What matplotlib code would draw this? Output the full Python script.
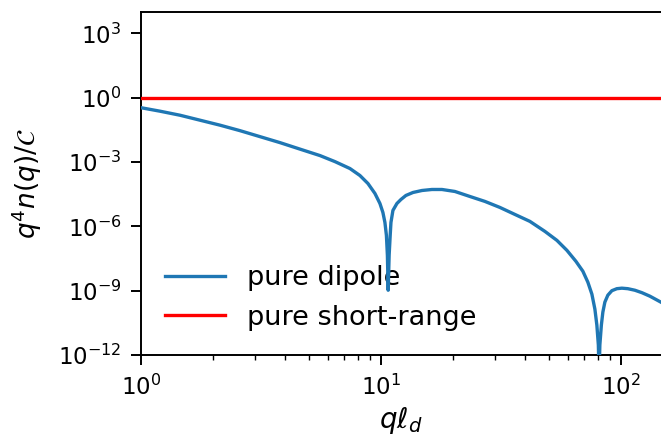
import matplotlib
matplotlib.use("Agg")
import matplotlib.pyplot as plt
from matplotlib.ticker import FixedLocator, NullLocator, LogLocator

# values (q*l_d, q^4 n(q)/C)
dipole_q = [1.000, 1.200, 1.454, 1.761, 2.134, 2.585, 3.132, 3.795, 4.597,
            5.570, 6.432, 7.428, 8.175, 8.828, 9.441, 9.904, 10.19, 10.39,
            10.54, 10.64, 10.72, 10.82, 10.93, 11.01, 11.22, 11.66, 12.12,
            12.71, 13.60, 14.83, 16.31, 17.96, 20.34, 23.49, 27.13, 31.32,
            36.17, 41.77, 48.23, 54.12, 59.57, 64.94, 69.46, 72.87, 75.73,
            77.94, 79.43, 80.58, 81.13, 81.75, 82.94, 84.14, 85.77, 88.27,
            91.73, 96.23, 100.96, 106.9, 114.4, 122.4, 132.1, 146.8]
dipole_n = [0.343, 0.236, 0.153, 0.0898, 0.0526, 0.0292, 0.01535, 8.07e-3,
            4.02e-3, 2.01e-3, 1.05e-3, 4.99e-4, 2.36e-4, 1.0e-4, 3.43e-5,
            1.17e-5, 4.48e-6, 1.53e-6, 3.81e-7, 4.48e-8, 1.05e-9, 4.48e-8,
            3.81e-7, 1.53e-6, 5.55e-6, 1.17e-5, 1.80e-5, 2.77e-5, 3.81e-5,
            4.72e-5, 5.26e-5, 5.26e-5, 4.25e-5, 2.48e-5, 1.46e-5, 7.65e-6,
            3.61e-6, 1.71e-6, 5.85e-7, 2.23e-7, 7.65e-8, 2.36e-8, 8.07e-9,
            2.48e-9, 6.88e-10, 1.38e-10, 2.48e-11, 2.92e-12, 1e-13, 2.92e-12,
            2.48e-11, 1.0e-10, 2.92e-10, 6.18e-10, 1.0e-9, 1.24e-9, 1.31e-9,
            1.24e-9, 1.05e-9, 8.07e-10, 5.55e-10, 2.92e-10]
short_q = [1.0, 147.0]
short_n = [1.0, 1.0]
y_ticks = [1e-12, 1e-9, 1e-6, 1e-3, 1e0, 1e3]

fig = plt.figure(figsize=(6.61, 4.38), dpi=100)
ax = fig.add_axes([141 / 661, 83 / 438, 520 / 661, 343 / 438])

ax.plot(dipole_q, dipole_n, color="#1f77b4", lw=2.4, label="pure dipole",
        zorder=3, solid_joinstyle="round")
ax.plot(short_q, short_n, color="red", lw=2.4, label="pure short-range", zorder=3)

ax.set_xscale("log")
ax.set_yscale("log")
ax.set_xlim(1, 147)
ax.set_ylim(1e-12, 1e4)
ax.yaxis.set_major_locator(FixedLocator(y_ticks))
ax.yaxis.set_minor_locator(NullLocator())
ax.xaxis.set_minor_locator(LogLocator(base=10, subs=range(2, 10)))

ax.spines["right"].set_visible(False)
for s in ("left", "bottom", "top"):
    ax.spines[s].set_linewidth(1.4)
ax.tick_params(which="major", length=7, width=1.4, labelsize=16.5, pad=7)
ax.tick_params(which="minor", length=3.8, width=1.0)

ax.set_xlabel(r"$q\ell_d$", fontsize=20, labelpad=4)
ax.set_ylabel(r"$q^4 n(q)/\mathcal{C}$", fontsize=19, labelpad=10)

leg = ax.legend(loc="lower left", frameon=False, fontsize=19.5,
                handlelength=2.2)
leg.set_zorder(1)

fig.savefig("out.png", dpi=100)
